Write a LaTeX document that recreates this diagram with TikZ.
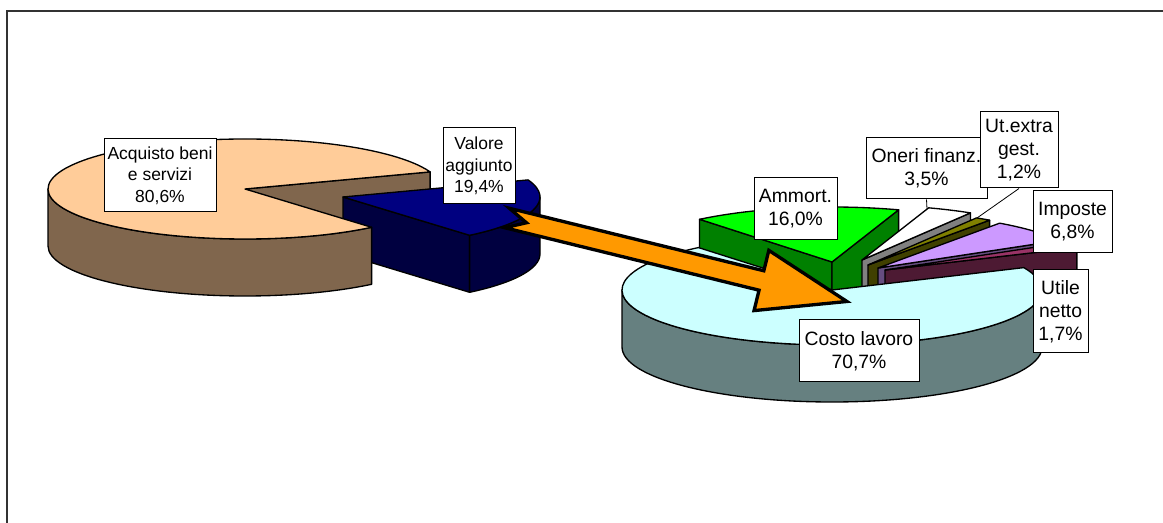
\documentclass[tikz,border=0pt]{standalone}
\usepackage{fontspec}
\setmainfont{Liberation Sans}

\tikzset{every picture/.style={line width=0.75pt}}
\tikzset{
  face/.style={draw=black, line width=1pt, line join=round},
  lblbox/.style={draw=black, fill=white, line width=0.75pt, align=center, inner sep=0.75pt},
  lblleft/.style={lblbox, font=\fontsize{13.1}{16.1}\selectfont},
  lblright/.style={lblbox, font=\fontsize{14.5}{17.3}\selectfont}
}

\begin{document}
\begin{tikzpicture}[x=0.75pt,y=0.75pt,yscale=-1,xscale=1]
\useasboundingbox (0,0) rectangle (1163,523);

% Frame
\draw [color={rgb, 255:red, 51; green, 51; blue, 51 }, line width=1.5pt] (7,523) -- (7,11) -- (1163,11);

% Left pie: inner face of the big slice
\begin{scope}[shift={(245,189)}]
\draw [face, fill={rgb, 255:red, 128; green, 102; blue, 77 }] (0,0) -- (-20:197 and 50) -- ++(0,57) -- (0,57) -- cycle;
\end{scope}

% Left pie: pulled out slice (Valore aggiunto)
\begin{scope}[shift={(343,197)}]
\draw [face, fill={rgb, 255:red, 0; green, 0; blue, 64 }] (0,0) -- (50:197 and 50) -- ++(0,57) -- (0,57) -- cycle;
\draw [face, fill={rgb, 255:red, 0; green, 0; blue, 64 }] (0:197 and 50) arc [start angle=0, end angle=50, x radius=197, y radius=50] -- ++(0,57) arc [start angle=50, end angle=0, x radius=197, y radius=50] -- cycle;
\draw [face, fill={rgb, 255:red, 0; green, 0; blue, 128 }] (0,0) -- (-20:197 and 50) arc [start angle=-20, end angle=50, x radius=197, y radius=50] -- cycle;
\end{scope}

% Left pie: side and top of the big slice
\begin{scope}[shift={(245,189)}]
\draw [face, fill={rgb, 255:red, 128; green, 102; blue, 77 }] (50:197 and 50) arc [start angle=50, end angle=180, x radius=197, y radius=50] -- ++(0,57) arc [start angle=180, end angle=50, x radius=197, y radius=50] -- cycle;
\draw [face, fill={rgb, 255:red, 255; green, 204; blue, 153 }] (0,0) -- (50:197 and 50) arc [start angle=50, end angle=340, x radius=197, y radius=50] -- cycle;
\end{scope}

% Right pie: Ammort.
\begin{scope}[shift={(832,262)}]
\draw [face, fill={rgb, 255:red, 0; green, 128; blue, 0 }] (0,0) -- (-129.1:210 and 55) -- ++(0,57) -- (0,57) -- cycle;
\draw [face, fill={rgb, 255:red, 0; green, 128; blue, 0 }] (0,0) -- (-71.5:210 and 55) -- ++(0,57) -- (0,57) -- cycle;
\draw [face, fill={rgb, 255:red, 0; green, 255; blue, 0 }] (0,0) -- (-129.1:210 and 55) arc [start angle=-129.1, end angle=-71.5, x radius=210, y radius=55] -- cycle;
\end{scope}

% Right pie: Oneri finanz.
\begin{scope}[shift={(862,260)}]
\draw [face, fill={rgb, 255:red, 128; green, 128; blue, 128 }] (0,0) -- (-58.9:210 and 55) -- ++(0,57) -- (0,57) -- cycle;
\draw [face, fill=white] (0,0) -- (-71.5:210 and 55) arc [start angle=-71.5, end angle=-58.9, x radius=210, y radius=55] -- cycle;
\end{scope}

% Right pie: Ut.extra gest.
\begin{scope}[shift={(868,265)}]
\draw [face, fill={rgb, 255:red, 64; green, 64; blue, 0 }] (0,0) -- (-54.6:210 and 55) -- ++(0,57) -- (0,57) -- cycle;
\draw [face, fill={rgb, 255:red, 128; green, 128; blue, 0 }] (0,0) -- (-58.9:210 and 55) arc [start angle=-58.9, end angle=-54.6, x radius=210, y radius=55] -- cycle;
\end{scope}

% Right pie: Imposte
\begin{scope}[shift={(878,268)}]
\draw [face, fill={rgb, 255:red, 102; green, 77; blue, 128 }] (0,0) -- (-30.1:210 and 55) -- ++(0,57) -- (0,57) -- cycle;
\draw [face, fill={rgb, 255:red, 204; green, 153; blue, 255 }] (0,0) -- (-54.6:210 and 55) arc [start angle=-54.6, end angle=-30.1, x radius=210, y radius=55] -- cycle;
\end{scope}

% Right pie: Utile netto
\begin{scope}[shift={(885,270)}]
\draw [face, fill={rgb, 255:red, 77; green, 26; blue, 51 }] (0,0) -- (-24:210 and 55) -- ++(0,57) -- (0,57) -- cycle;
\draw [face, fill={rgb, 255:red, 153; green, 51; blue, 102 }] (0,0) -- (-30.1:210 and 55) arc [start angle=-30.1, end angle=-24, x radius=210, y radius=55] -- cycle;
\end{scope}

% Right pie: Costo lavoro
\begin{scope}[shift={(832,290)}]
\draw [face, fill={rgb, 255:red, 102; green, 128; blue, 128 }] (0:210 and 55) arc [start angle=0, end angle=180, x radius=210, y radius=55] -- ++(0,57) arc [start angle=180, end angle=0, x radius=210, y radius=55] -- cycle;
\draw [face, fill={rgb, 255:red, 204; green, 255; blue, 255 }] (0,0) -- (-24:210 and 55) arc [start angle=-24, end angle=230.5, x radius=210, y radius=55] -- cycle;
\end{scope}

% Block arrow
\begin{scope}[shift={(507,218)}, rotate=13.8]
\draw [line width=2.5pt, line join=miter, fill={rgb, 255:red, 255; green, 153; blue, 0 }] (0,-10) -- (262,-10) -- (262,-31) -- (350,0) -- (262,31) -- (262,10) -- (0,10) -- (20,0) -- cycle;
\end{scope}

% Text Node
\draw (160,175.5) node [lblleft, minimum width=84pt, minimum height=54.75pt] (acq) {Acquisto beni\\e servizi\\80,6\%};
\draw (479,166) node [lblleft, minimum width=54pt, minimum height=57pt] (val) {Valore\\aggiunto\\19,4\%};
\draw (795.5,209) node [lblright, minimum width=62.25pt, minimum height=46.5pt] (amm) {Ammort.\\16,0\%};
\draw (926.5,168.5) node [lblright, minimum width=90.75pt, minimum height=45.75pt] (one) {Oneri finanz.\\3,5\%};
\draw (1019,150) node [lblright, minimum width=58.5pt, minimum height=57pt] (ute) {Ut.extra\\gest.\\1,2\%};
\draw (1072.5,222) node [lblright, minimum width=59.25pt, minimum height=46.5pt] (imp) {Imposte\\6,8\%};
\draw (1060.5,311.5) node [lblright, minimum width=41.25pt, minimum height=62.25pt] (utl) {Utile\\netto\\1,7\%};
\draw (859,351) node [lblright, minimum width=90pt, minimum height=46.5pt] (cos) {Costo lavoro\\70,7\%};

% Leader lines
\coordinate (onetip) at (927,209);
\coordinate (utetip) at (977,218);
\draw [line width=0.6pt] (one.south) -- (onetip);
\draw [line width=0.6pt] (ute.south) -- (utetip);

\end{tikzpicture}
\end{document}
